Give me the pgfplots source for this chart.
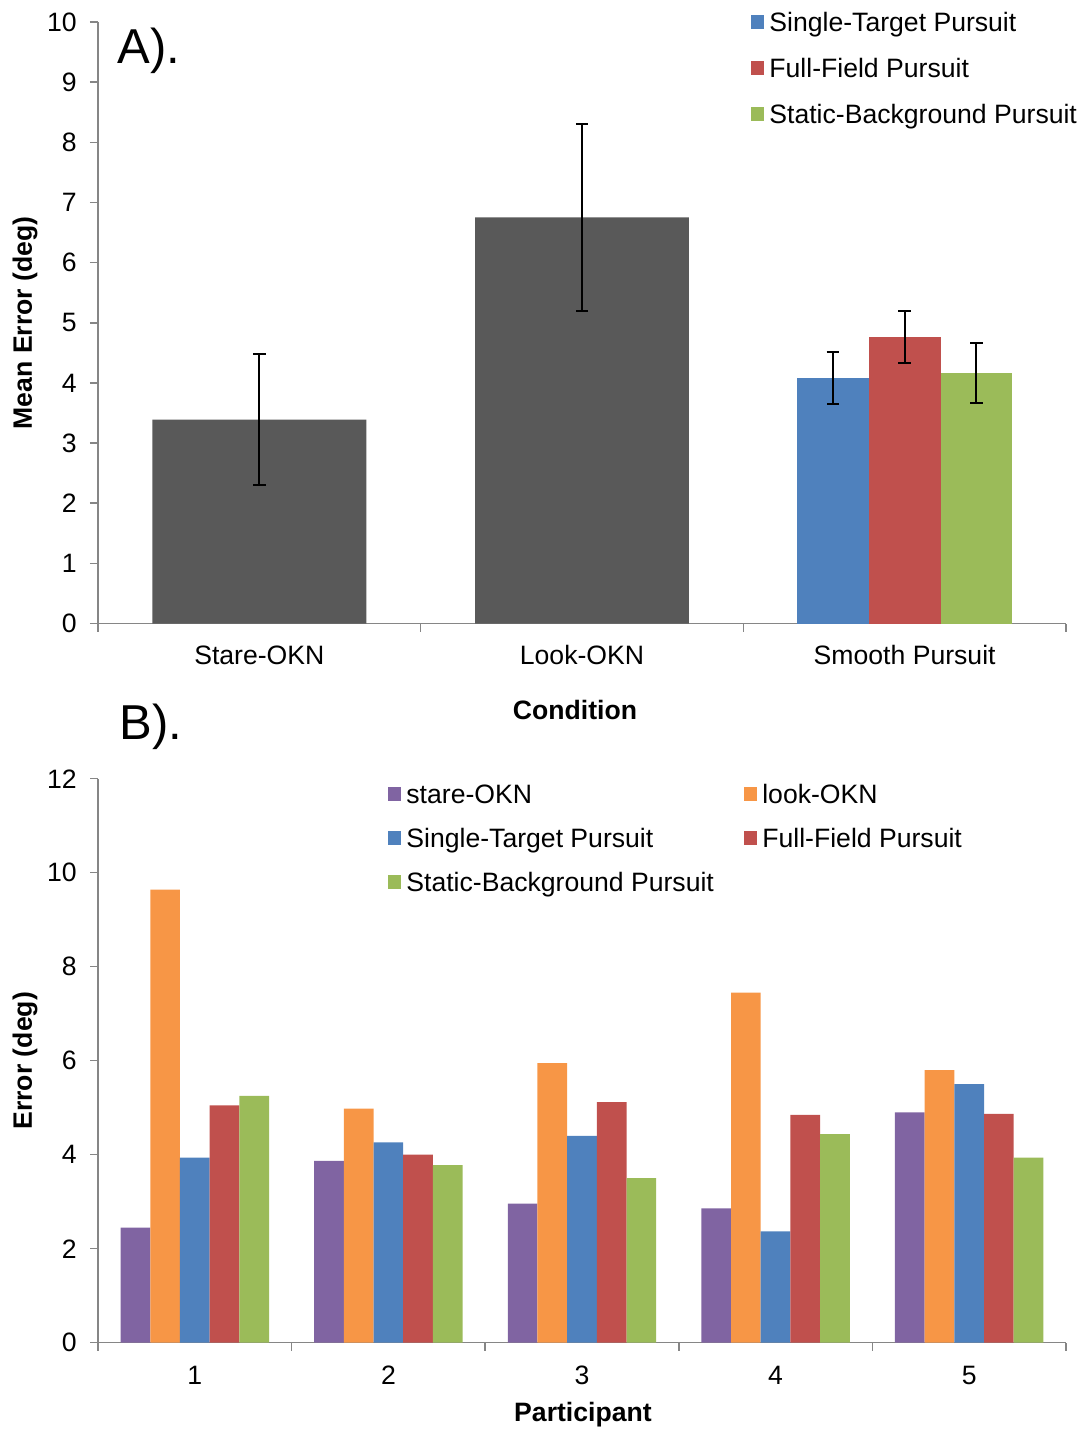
\documentclass[border=0pt]{standalone}
\usepackage{pgfplots}
\pgfplotsset{compat=1.18}
\usepackage{fontspec}
\setmainfont{Liberation Sans}
\definecolor{cgray}{HTML}{595959}
\definecolor{cblue}{HTML}{4F81BD}
\definecolor{cred}{HTML}{C0504D}
\definecolor{cgreen}{HTML}{9BBB59}
\definecolor{cpurple}{HTML}{8064A2}
\definecolor{corange}{HTML}{F79646}
\definecolor{caxis}{HTML}{868686}
\pgfplotsset{
  excel/.style={
    scale only axis,
    width=484pt,
    axis lines*=left,
    axis line style={caxis, line width=0.75pt},
    tick align=outside,
    major tick length=4pt, minor tick length=4pt,
    tick style={caxis, line width=0.75pt},
    every major x tick/.append style={draw=none},
    /pgf/number format/assume math mode=true,
    tick label style={font=\fontsize{13.3}{16}\selectfont, black},
    label style={font=\bfseries\fontsize{13.3}{16}\selectfont},
    yticklabel style={inner sep=0pt, xshift=-6.5pt},
    xticklabel style={anchor=base, inner sep=0pt, yshift=-16.7pt},
    every axis y label/.style={at={(axis description cs:-0.0682,0.5)}, rotate=90, anchor=base,
      font=\bfseries\fontsize{13.3}{16}\selectfont},
    legend image code/.code={\fill[##1] (0pt,-3.3pt) rectangle (6.6pt,3.3pt);},
    legend cell align=left,
    ymin=0,
  },
  errb/.style={error bars/.cd, y dir=both, y explicit,
    error bar style={black, line width=1pt},
    error mark options={black, rotate=90, mark size=3.1pt, line width=1pt}},
}
\begin{document}
\begin{tikzpicture}[x=1pt,y=1pt]
\useasboundingbox (0,0) rectangle (542,-715);
% ---------------- Panel A ----------------
\begin{axis}[excel,
  at={(49pt,-311.75pt)}, anchor=south west,
  height=300.75pt,
  ymax=10, ytick={0,1,...,10},
  xmin=-0.5, xmax=2.5,
  xtick={0,1,2}, xticklabels={Stare-OKN,Look-OKN,Smooth Pursuit},
  minor xtick={-0.5,0.5,1.5,2.5},
  xlabel={Condition},
  xlabel style={at={(axis description cs:0.4928,0)}, anchor=base, yshift=-47.75pt},
  ylabel={Mean Error (deg)},
  legend style={draw=none, fill=none, inner sep=0pt, outer sep=0pt,
    at={(axis description cs:0.6746,1)}, anchor=north west, yshift=4.75pt,
    nodes={inner sep=0pt, text height=9.5pt, text depth=0pt,
      font=\fontsize{13.3}{16}\selectfont},
    row sep=13.5pt,
    /tikz/every odd column/.append style={column sep=2.6pt}},
]
\addplot[ybar, bar width=0.663, bar shift=0, fill=cgray, draw=none, forget plot, errb]
  coordinates {(0,3.39) +- (0,1.09) (1,6.75) +- (0,1.56)};
\addplot[ybar, bar width=0.2225, bar shift=0, fill=cblue, draw=none, errb]
  coordinates {(1.7775,4.08) +- (0,0.43)};
\addlegendentry{Single-Target Pursuit}
\addplot[ybar, bar width=0.2225, bar shift=0, fill=cred, draw=none, errb]
  coordinates {(2,4.76) +- (0,0.43)};
\addlegendentry{Full-Field Pursuit}
\addplot[ybar, bar width=0.2225, bar shift=0, fill=cgreen, draw=none, errb]
  coordinates {(2.2225,4.16) +- (0,0.50)};
\addlegendentry{Static-Background Pursuit}
\end{axis}
% ---------------- Panel B ----------------
\begin{axis}[excel,
  at={(49pt,-671.35pt)}, anchor=south west,
  height=282pt,
  ymax=12, ytick={0,2,...,12},
  xmin=0.5, xmax=5.5,
  xtick={1,2,3,4,5},
  minor xtick={0.5,1.5,2.5,3.5,4.5,5.5},
  xlabel={Participant},
  xlabel style={at={(axis description cs:0.501,0)}, anchor=base, yshift=-39.2pt},
  ylabel={Error (deg)},
  legend columns=2,
  legend style={draw=none, fill=none, inner sep=0pt, outer sep=0pt,
    at={(axis description cs:0.2996,1)}, anchor=north west, yshift=-2.9pt,
    nodes={inner sep=0pt, text height=9.5pt, text depth=0pt,
      font=\fontsize{13.3}{16}\selectfont},
    row sep=12.5pt,
    /tikz/every odd column/.append style={column sep=2.6pt},
    /tikz/every even column/.append style={column sep=15pt}},
]
\addplot[ybar, bar width=0.1534, bar shift=-0.3068, fill=cpurple, draw=none]
  coordinates {(1,2.45) (2,3.87) (3,2.96) (4,2.86) (5,4.90)};
\addlegendentry{stare-OKN}
\addplot[ybar, bar width=0.1534, bar shift=-0.1534, fill=corange, draw=none]
  coordinates {(1,9.64) (2,4.98) (3,5.95) (4,7.45) (5,5.80)};
\addlegendentry{look-OKN}
\addplot[ybar, bar width=0.1534, bar shift=0, fill=cblue, draw=none]
  coordinates {(1,3.94) (2,4.26) (3,4.40) (4,2.37) (5,5.50)};
\addlegendentry{Single-Target Pursuit}
\addplot[ybar, bar width=0.1534, bar shift=0.1534, fill=cred, draw=none]
  coordinates {(1,5.05) (2,4.00) (3,5.12) (4,4.85) (5,4.87)};
\addlegendentry{Full-Field Pursuit}
\addplot[ybar, bar width=0.1534, bar shift=0.3068, fill=cgreen, draw=none]
  coordinates {(1,5.25) (2,3.78) (3,3.50) (4,4.44) (5,3.94)};
\addlegendentry{Static-Background Pursuit}
\end{axis}
\node[anchor=base west, inner sep=0pt, font=\fontsize{24.5}{29}\selectfont] at (58.5,-31.75) {A).};
\node[anchor=base west, inner sep=0pt, font=\fontsize{24.5}{29}\selectfont] at (59.5,-369.5) {B).};
\end{tikzpicture}
\end{document}
